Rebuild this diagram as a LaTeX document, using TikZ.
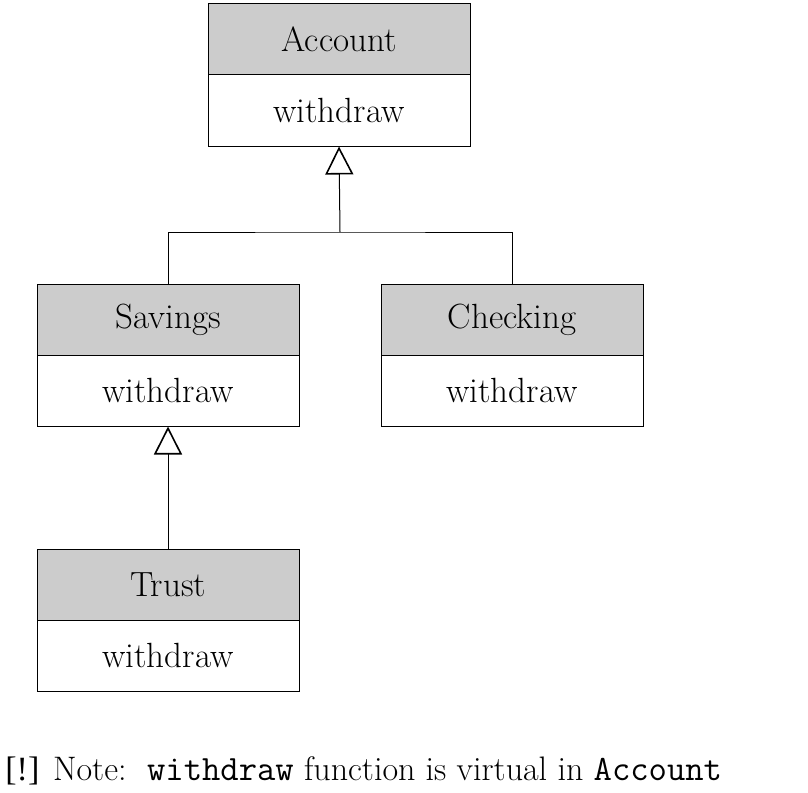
\documentclass[tikz,border=0pt]{standalone}
\usepackage{fontspec}
\newfontfamily\bangfont{Liberation Serif}
\usetikzlibrary{arrows.meta}

\begin{document}
\begin{tikzpicture}[x=0.5pt,y=-0.5pt]
\tikzstyle{every node}+=[inner sep=0pt]
\tikzstyle{classhead}=[draw,fill=black!20,line width=0.5pt,minimum width=131pt,minimum height=35.5pt,font=\fontsize{17.5}{20}\selectfont]
\tikzstyle{classbody}=[draw,fill=white,line width=0.5pt,minimum width=131pt,minimum height=35.5pt,font=\fontsize{17.5}{20}\selectfont]
\tikzstyle{inherit}=[line width=0.5pt,-{Triangle[open,length=14pt,width=14pt,line width=0.8pt]}]
\useasboundingbox (0,0) rectangle (808,792);
% classes
\node [classhead] (account) at (339,39.5) {Account};
\node [classbody] (accountw) at (339,110.5) {withdraw};
\node [classhead] (savings) at (168,319.5) {Savings};
\node [classbody] (savingsw) at (168,390.5) {withdraw};
\node [classhead] (checking) at (512,319.5) {Checking};
\node [classbody] (checkingw) at (512,390.5) {withdraw};
\node [classhead] (trust) at (168,584.5) {Trust};
\node [classbody] (trustw) at (168,655.5) {withdraw};
% inheritance
\coordinate (fork) at (340,232);
\draw [line width=0.5pt] (savings.north) |- (fork) -| (checking.north);
\draw [inherit] (fork) -- (accountw.south);
\draw [inherit] (trust.north) -- (savingsw.south);
% note
\node [anchor=base west,font=\fontsize{17}{20}\selectfont] (note) at (5,780)
  {{\bangfont[!]} Note:\ \ {\fontsize{17.8}{20}\ttfamily withdraw} function is virtual in {\fontsize{17.8}{20}\ttfamily Account}};
\end{tikzpicture}
\end{document}
